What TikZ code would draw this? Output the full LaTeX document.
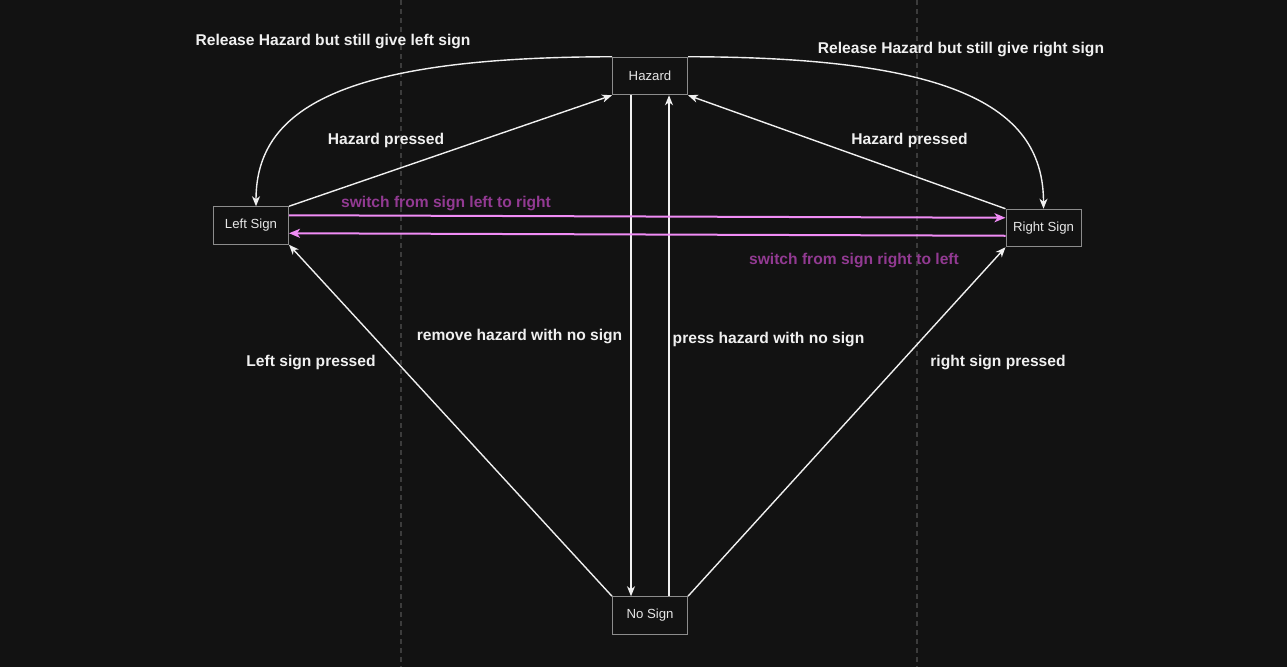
\documentclass[tikz,border=0pt]{standalone}
\usepackage{fontspec}
\setmainfont{Liberation Sans}
\usetikzlibrary{arrows.meta,calc}
\definecolor{bg}{HTML}{121212}
\definecolor{wire}{HTML}{F0F0F0}
\definecolor{boxline}{HTML}{8C8C8C}
\definecolor{boxtext}{HTML}{E6E6E6}
\definecolor{pinkline}{HTML}{F08CF5}
\definecolor{purpletext}{HTML}{923A92}
\definecolor{guideline}{HTML}{3C3C3C}
\tikzset{
  statebox/.style={draw=boxline, line width=1pt, fill=bg, text=boxtext, minimum width=75pt, minimum height=37.5pt, inner sep=0pt, font=\fontsize{13.2}{15}\selectfont},
  lbl/.style={text=wire, inner sep=0pt, font=\fontsize{15.6}{18}\selectfont\bfseries},
  plbl/.style={text=purpletext, inner sep=0pt, font=\fontsize{15.6}{18}\selectfont\bfseries},
  conn/.style={draw=wire, line width=1.4pt, -{Stealth[length=10pt,width=8pt,inset=3pt]}},
  pconn/.style={draw=pinkline, line width=2pt, -{Stealth[length=11pt,width=9pt,inset=3pt]}},
  guide/.style={draw=guideline, line width=1.2pt, dash pattern=on 5pt off 4pt}
}
\begin{document}
\begin{tikzpicture}[x=1pt,y=-1pt]
\fill[bg] (0,0) rectangle (1287,667);
\useasboundingbox (0,0) rectangle (1287,667);
\draw[guide] (401,0) -- (401,667);
\draw[guide] (917,0) -- (917,667);

\node[statebox] (hz) at (650,76) {\raisebox{-1pt}{Hazard}};
\node[statebox] (ls) at (251,225.5) {\raisebox{-1pt}{Left Sign}};
\node[statebox] (rs) at (1043.5,228) {\raisebox{-1pt}{Right Sign}};
\node[statebox] (ns) at (650,615.5) {\raisebox{-1pt}{No Sign}};

% curves from Hazard
\draw[conn] (hz.north west) .. controls (340,57) and ($(ls.north)+(5,-97)$) .. ($(ls.north)+(5,0)$);
\draw[conn] (hz.north east) .. controls (960,57) and ($(rs.north)+(0,-99)$) .. (rs.north);

% hazard pressed
\draw[conn] (ls.north east) -- (hz.south west);
\draw[conn] (rs.north west) -- (hz.south east);

% sign pressed
\draw[conn] (ns.north west) -- (ls.south east);
\draw[conn] (ns.north east) -- (rs.south west);

% vertical
\draw[conn] ($(hz.south)+(-19,0)$) -- ($(ns.north)+(-19,0)$);
\draw[conn] ($(ns.north)+(19,0)$) -- ($(hz.south)+(19,0)$);

% pink switches
\draw[pconn] ($(ls.north east)+(0,9)$) -- ($(rs.north west)+(0,9)$);
\draw[pconn] ($(rs.north west)+(0,27)$) -- ($(ls.north east)+(0,27)$);

% labels
\node[lbl] (l1) at (333,41.5) {Release Hazard but still give left sign};
\node[lbl] (l2) at (961,49.5) {Release Hazard but still give right sign};
\node[lbl] (l3) at (386,140.5) {Hazard pressed};
\node[lbl] (l4) at (909.5,140.5) {Hazard pressed};
\node[plbl] (l5) at (446,203.5) {switch from sign left to right};
\node[plbl] (l6) at (854,260.5) {switch from sign right to left};
\node[lbl] (l7) at (519.5,336.5) {remove hazard with no sign};
\node[lbl] (l8) at (768.5,339.5) {press hazard with no sign};
\node[lbl] (l9) at (311,362.5) {Left sign pressed};
\node[lbl] (l10) at (998,362.5) {right sign pressed};
\end{tikzpicture}
\end{document}
